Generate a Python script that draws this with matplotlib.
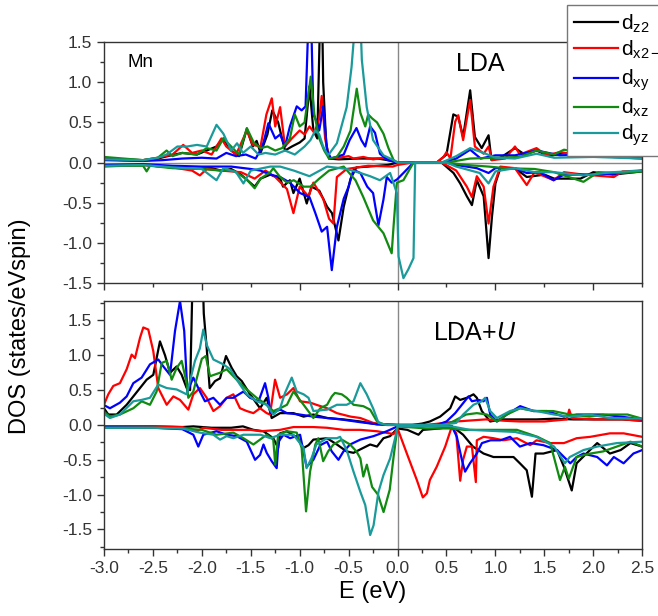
import matplotlib as mpl
mpl.use('Agg')
import matplotlib.pyplot as plt
from matplotlib.ticker import MultipleLocator

plt.rcParams['font.family'] = ['Liberation Sans', 'DejaVu Sans']
plt.rcParams['mathtext.fontset'] = 'custom'
plt.rcParams['mathtext.rm'] = 'Liberation Sans'
plt.rcParams['mathtext.it'] = 'Liberation Sans:italic'

# orbital labels / colours (legend order)
orbitals = ['z2', 'x2-y2', 'xy', 'xz', 'yz']
colors = ['black', '#ff0000', '#0000ff', '#108a10', '#1a9a9a']

# ---------------- LDA, spin up ----------------
lda_up_z2_e = [-3.0, -2.8, -2.6, -2.45, -2.35, -2.2, -2.05, -1.95, -1.85, -1.78, -1.7, -1.62, -1.54, -1.48, -1.44,
               -1.4, -1.33, -1.28, -1.22, -1.15, -1.08, -1.0, -0.95, -0.9, -0.86, -0.82, -0.79, -0.775, -0.76,
               -0.73, -0.7, -0.6, -0.4, -0.2, -0.05, 0.0, 0.4, 0.5, 0.57, 0.62, 0.67, 0.742, 0.79, 0.86, 0.93,
               0.96, 1.05, 1.2, 1.3, 1.42, 1.55, 1.7, 1.9, 2.1, 2.3, 2.5]
lda_up_z2 = [0.05, 0.04, 0.03, 0.05, 0.08, 0.12, 0.1, 0.15, 0.2, 0.3, 0.15, 0.08, 0.42, 0.2, 0.27,
             0.12, 0.35, 0.65, 0.5, 0.15, 0.2, 0.25, 0.3, 0.95, 0.4, 0.3, 1.9, 2.2, 1.0,
             0.25, 0.05, 0.04, 0.05, 0.05, 0.02, 0.0, 0.0, 0.1, 0.6, 0.57, 0.32, 0.9, 0.32, 0.18, 0.34,
             0.03, 0.06, 0.18, 0.1, 0.15, 0.08, 0.12, 0.1, 0.08, 0.08, 0.07]

lda_up_x2y2_e = [-3.0, -2.8, -2.6, -2.45, -2.3, -2.19, -2.1, -2.0, -1.9, -1.8, -1.75, -1.65, -1.54, -1.48, -1.4,
                 -1.34, -1.285, -1.25, -1.2, -1.15, -1.08, -1.0, -0.95, -0.9, -0.85, -0.8, -0.775, -0.74, -0.7,
                 -0.6, -0.5, -0.45, -0.35, -0.25, -0.15, -0.05, 0.0, 0.4, 0.47, 0.5, 0.54, 0.589, 0.62, 0.67,
                 0.742, 0.79, 0.88, 0.93, 0.964, 1.1, 1.2, 1.25, 1.42, 1.52, 1.66, 1.8, 2.0, 2.2, 2.5]
lda_up_x2y2 = [0.04, 0.03, 0.03, 0.06, 0.1, 0.22, 0.12, 0.15, 0.1, 0.3, 0.2, 0.1, 0.4, 0.22, 0.2,
               0.6, 0.8, 0.45, 0.69, 0.2, 0.3, 0.4, 0.35, 0.45, 0.37, 0.55, 0.83, 0.3, 0.05,
               0.06, 0.08, 0.05, 0.07, 0.04, 0.06, 0.02, 0.0, 0.0, 0.07, 0.13, 0.05, 0.51, 0.59, 0.28,
               0.78, 0.2, 0.11, 0.2, 0.03, 0.05, 0.2, 0.1, 0.18, 0.09, 0.13, 0.1, 0.1, 0.08, 0.06]

lda_up_xy_e = [-3.0, -2.6, -2.4, -2.2, -2.0, -1.85, -1.75, -1.65, -1.55, -1.45, -1.38, -1.32, -1.25, -1.2,
               -1.15, -1.1, -1.03, -0.98, -0.94, -0.91, -0.885, -0.86, -0.83, -0.8, -0.76, -0.72, -0.68,
               -0.55, -0.49, -0.42, -0.37, -0.33, -0.28, -0.23, -0.18, -0.1, 0.0, 0.45, 0.6, 0.742, 0.85,
               1.0, 1.2, 1.42, 1.66, 1.9, 2.2, 2.5]
lda_up_xy = [0.03, 0.02, 0.03, 0.05, 0.06, 0.05, 0.12, 0.08, 0.1, 0.05, 0.2, 0.49, 0.3, 0.35,
             0.2, 0.45, 0.7, 0.65, 0.7, 1.8, 1.9, 0.6, 0.52, 0.4, 0.7, 0.15, 0.05,
             0.1, 0.28, 0.43, 0.28, 0.2, 0.45, 0.37, 0.11, 0.03, 0.0, 0.0, 0.05, 0.16, 0.05,
             0.09, 0.09, 0.15, 0.09, 0.1, 0.07, 0.05]

lda_up_xz_e = [-3.0, -2.8, -2.6, -2.45, -2.36, -2.3, -2.2, -2.05, -1.95, -1.85, -1.78, -1.7, -1.62, -1.54,
               -1.47, -1.4, -1.33, -1.25, -1.18, -1.1, -1.05, -1.0, -0.95, -0.887, -0.85, -0.8, -0.75, -0.7,
               -0.62, -0.55, -0.48, -0.417, -0.38, -0.33, -0.3, -0.26, -0.21, -0.144, -0.093, -0.04, 0.0,
               0.5, 0.74, 1.0, 1.25, 1.42, 1.6, 1.7, 1.9, 2.2, 2.5]
lda_up_xz = [0.07, 0.05, 0.03, 0.06, 0.15, 0.08, 0.12, 0.1, 0.18, 0.15, 0.3, 0.2, 0.1, 0.43,
             0.25, 0.18, 0.2, 0.15, 0.18, 0.3, 0.6, 0.45, 0.5, 1.07, 0.6, 0.3, 0.15, 0.05,
             0.07, 0.2, 0.4, 0.92, 0.62, 0.45, 0.6, 0.55, 0.5, 0.36, 0.18, 0.03, 0.0,
             0.0, 0.05, 0.06, 0.07, 0.15, 0.1, 0.16, 0.12, 0.1, 0.08]

lda_up_yz_e = [-3.0, -2.6, -2.45, -2.36, -2.25, -2.15, -2.05, -1.95, -1.85, -1.78, -1.7, -1.64, -1.58, -1.5,
               -1.42, -1.35, -1.25, -1.15, -1.05, -0.95, -0.89, -0.84, -0.8, -0.76, -0.71, -0.62, -0.52,
               -0.47, -0.43, -0.4, -0.38, -0.365, -0.315, -0.25, -0.144, -0.04, 0.0, 0.45, 0.6, 0.742,
               0.9, 1.0, 1.2, 1.42, 1.6, 2.0, 2.5]
lda_up_yz = [0.04, 0.03, 0.06, 0.1, 0.2, 0.2, 0.22, 0.2, 0.47, 0.36, 0.15, 0.24, 0.12, 0.2,
             0.1, 0.12, 0.1, 0.15, 0.1, 0.2, 0.28, 0.4, 0.35, 0.2, 0.09, 0.24, 0.69,
             1.19, 1.8, 1.6, 1.8, 1.28, 0.69, 0.28, 0.09, 0.03, 0.0, 0.0, 0.08, 0.18,
             0.11, 0.06, 0.05, 0.11, 0.06, 0.07, 0.05]

# ---------------- LDA, spin down ----------------
lda_dn_z2_e = [-3.0, -2.6, -2.3, -2.1, -1.9, -1.8, -1.7, -1.6, -1.46, -1.4, -1.3, -1.2, -1.17, -1.1, -1.064,
               -1.0, -0.928, -0.88, -0.8, -0.72, -0.67, -0.604, -0.55, -0.48, -0.42, -0.3, -0.1, 0.0, 0.45,
               0.572, 0.64, 0.708, 0.76, 0.81, 0.88, 0.93, 0.965, 1.0, 1.05, 1.2, 1.32, 1.5, 1.6, 1.87, 2.0,
               2.2, 2.5]
lda_dn_z2 = [-0.04, -0.03, -0.06, -0.08, -0.07, -0.1, -0.08, -0.15, -0.3, -0.2, -0.15, -0.2, -0.3, -0.22, -0.38,
             -0.2, -0.51, -0.3, -0.35, -0.55, -0.63, -0.97, -0.55, -0.2, -0.06, -0.05, -0.03, 0.0, 0.0,
             -0.13, -0.26, -0.42, -0.53, -0.22, -0.42, -1.19, -0.67, -0.26, -0.07, -0.07, -0.18, -0.15, -0.2,
             -0.2, -0.12, -0.15, -0.11]

lda_dn_x2y2_e = [-3.0, -2.6, -2.3, -2.1, -2.02, -1.95, -1.8, -1.6, -1.46, -1.35, -1.25, -1.13, -1.064, -1.0,
                 -0.91, -0.86, -0.76, -0.7, -0.655, -0.62, -0.52, -0.3, -0.05, 0.0, 0.05, 0.15, 0.45, 0.6,
                 0.708, 0.76, 0.81, 0.88, 0.93, 0.98, 1.05, 1.2, 1.32, 1.4, 1.595, 1.7, 1.9, 2.21, 2.3, 2.5]
lda_dn_x2y2 = [-0.04, -0.03, -0.06, -0.1, -0.16, -0.08, -0.1, -0.12, -0.2, -0.1, -0.18, -0.33, -0.63, -0.3,
               -0.42, -0.25, -0.45, -0.7, -0.76, -0.18, -0.08, -0.04, -0.05, -0.03, -0.02, 0.0, 0.0, -0.1,
               -0.3, -0.43, -0.17, -0.3, -0.76, -0.3, -0.05, -0.07, -0.28, -0.12, -0.22, -0.12, -0.15, -0.18,
               -0.11, -0.1]

lda_dn_xy_e = [-3.0, -2.6, -2.3, -2.0, -1.7, -1.5, -1.4, -1.3, -1.2, -1.1, -0.996, -0.9, -0.84, -0.775, -0.72,
               -0.672, -0.62, -0.55, -0.5, -0.45, -0.38, -0.31, -0.25, -0.195, -0.144, -0.11, -0.06, -0.005,
               0.06, 0.163, 0.5, 0.6, 0.81, 0.93, 1.0, 1.2, 1.32, 1.45, 1.595, 1.7, 1.9, 2.2, 2.5]
lda_dn_xy = [-0.03, -0.02, -0.04, -0.05, -0.05, -0.08, -0.1, -0.15, -0.18, -0.25, -0.38, -0.43, -0.63, -0.86, -0.8,
             -1.34, -0.8, -0.45, -0.3, -0.09, -0.13, -0.3, -0.38, -0.78, -0.46, -0.18, -0.25, -0.21,
             -0.13, 0.0, 0.0, -0.03, -0.07, -0.13, -0.07, -0.07, -0.13, -0.12, -0.22, -0.15, -0.15, -0.14, -0.1]

lda_dn_xz_e = [-3.0, -2.8, -2.6, -2.564, -2.53, -2.3, -2.0, -1.8, -1.68, -1.55, -1.46, -1.4, -1.3, -1.27, -1.2,
               -1.13, -1.06, -0.96, -0.89, -0.8, -0.7, -0.55, -0.43, -0.35, -0.25, -0.144, -0.06, -0.04,
               -0.007, 0.06, 0.163, 0.5, 0.7, 0.93, 1.1, 1.4, 1.6, 1.9, 2.05, 2.3, 2.5]
lda_dn_xz = [-0.05, -0.04, -0.04, -0.11, -0.04, -0.07, -0.08, -0.1, -0.1, -0.2, -0.32, -0.2, -0.12, -0.07, -0.18,
             -0.25, -0.22, -0.3, -0.3, -0.2, -0.1, -0.05, -0.22, -0.43, -0.72, -0.88, -1.13, -0.78,
             -0.25, -0.22, 0.0, 0.0, -0.03, -0.05, -0.07, -0.08, -0.12, -0.24, -0.12, -0.13, -0.11]

lda_dn_yz_e = [-3.0, -2.6, -2.3, -2.0, -1.85, -1.78, -1.65, -1.575, -1.5, -1.3, -1.2, -1.06, -0.9, -0.72,
               -0.52, -0.38, -0.28, -0.18, -0.076, -0.007, 0.01, 0.06, 0.11, 0.163, 0.18, 0.5, 0.6, 0.84,
               0.93, 1.0, 1.2, 1.4, 1.6, 1.9, 2.2, 2.5]
lda_dn_yz = [-0.04, -0.03, -0.06, -0.08, -0.22, -0.07, -0.12, -0.26, -0.1, -0.05, -0.05, -0.1, -0.17, -0.05,
             -0.08, -0.13, -0.17, -0.22, -0.13, -0.38, -1.17, -1.44, -1.33, -1.19, 0.0, 0.0, -0.05, -0.13,
             -0.26, -0.11, -0.07, -0.12, -0.12, -0.16, -0.12, -0.1]

# ---------------- LDA+U, spin up ----------------
ldau_up_z2_e = [-3.0, -2.956, -2.87, -2.768, -2.7, -2.615, -2.564, -2.496, -2.428, -2.376, -2.325, -2.257,
                -2.206, -2.155, -2.12, -2.09, -2.05, -2.0, -1.98, -1.95, -1.92, -1.865, -1.814, -1.753, -1.695,
                -1.644, -1.592, -1.507, -1.405, -1.337, -1.286, -1.2, -1.064, -0.96, -0.86, -0.72, -0.553,
                -0.38, -0.21, 0.0, 0.15, 0.25, 0.33, 0.435, 0.538, 0.589, 0.64, 0.708, 0.776, 0.81, 0.861,
                0.947, 1.05, 1.25, 1.42, 1.6, 1.8, 2.0, 2.3, 2.5]
ldau_up_z2 = [0.24, 0.15, 0.15, 0.29, 0.41, 0.56, 0.65, 0.72, 1.2, 1.0, 0.75, 0.84,
              0.72, 0.53, 0.5, 2.4, 2.0, 2.6, 1.6, 1.1, 0.53, 0.63, 0.67, 0.99, 0.82,
              0.7, 0.63, 0.44, 0.24, 0.39, 0.1, 0.17, 0.17, 0.12, 0.15, 0.1, 0.08,
              0.05, 0.01, 0.0, 0.0, 0.02, 0.05, 0.12, 0.24, 0.41, 0.36, 0.39, 0.44, 0.39, 0.2,
              0.05, 0.08, 0.08, 0.08, 0.09, 0.08, 0.08, 0.08, 0.06]

ldau_up_x2y2_e = [-3.0, -2.956, -2.905, -2.837, -2.768, -2.717, -2.683, -2.632, -2.598, -2.547, -2.496, -2.445,
                  -2.359, -2.291, -2.223, -2.138, -2.087, -2.019, -1.95, -1.882, -1.814, -1.746, -1.678, -1.61,
                  -1.541, -1.473, -1.405, -1.337, -1.303, -1.252, -1.2, -1.13, -1.064, -0.996, -0.89, -0.83,
                  -0.72, -0.62, -0.48, -0.38, -0.25, -0.11, 0.0, 0.3, 0.6, 0.9, 1.1, 1.25, 1.5, 1.73, 1.754,
                  1.78, 2.0, 2.3, 2.5]
ldau_up_x2y2 = [0.29, 0.44, 0.56, 0.6, 0.8, 1.01, 0.96, 1.25, 1.4, 1.37, 1.06, 0.53,
                0.29, 0.41, 0.36, 0.22, 0.44, 0.53, 0.39, 0.2, 0.27, 0.39, 0.44, 0.24,
                0.2, 0.17, 0.24, 0.17, 0.15, 0.65, 0.39, 0.44, 0.53, 0.34, 0.32, 0.29,
                0.24, 0.17, 0.12, 0.1, 0.03, 0.0, 0.0, 0.0, 0.05, 0.08, 0.06, 0.05, 0.05, 0.08, 0.22,
                0.1, 0.08, 0.08, 0.06]

ldau_up_xy_e = [-3.007, -2.939, -2.837, -2.768, -2.7, -2.615, -2.53, -2.445, -2.393, -2.325, -2.274, -2.223,
                -2.18, -2.148, -2.087, -2.019, -1.968, -1.882, -1.814, -1.746, -1.678, -1.575, -1.507, -1.42,
                -1.354, -1.32, -1.3, -1.2, -1.13, -1.0, -0.86, -0.72, -0.58, -0.38, -0.21, 0.0, 0.4, 0.5,
                0.589, 0.657, 0.725, 0.76, 0.827, 0.878, 0.913, 0.947, 1.015, 1.117, 1.253, 1.39, 1.526,
                1.7, 1.83, 2.1, 2.28, 2.5]
ldau_up_xy = [0.29, 0.24, 0.32, 0.41, 0.6, 0.68, 0.87, 0.94, 0.84, 0.72, 1.35, 1.78,
              1.35, 0.48, 0.68, 0.48, 0.34, 0.39, 0.29, 0.39, 0.39, 0.48, 0.39, 0.34,
              0.6, 0.39, 0.17, 0.22, 0.17, 0.15, 0.12, 0.1, 0.08, 0.04, 0.01, 0.0, 0.0, 0.05,
              0.17, 0.29, 0.41, 0.34, 0.36, 0.34, 0.39, 0.15, 0.05, 0.15, 0.27, 0.2, 0.2,
              0.12, 0.15, 0.15, 0.12, 0.08]

ldau_up_xz_e = [-3.007, -2.939, -2.837, -2.7, -2.615, -2.53, -2.462, -2.41, -2.359, -2.308, -2.257, -2.206,
                -2.155, -2.138, -2.087, -2.0, -1.96, -1.916, -1.814, -1.746, -1.678, -1.61, -1.541, -1.44,
                -1.337, -1.27, -1.2, -1.13, -1.064, -0.96, -0.86, -0.79, -0.72, -0.672, -0.64, -0.57, -0.52,
                -0.45, -0.35, -0.28, -0.21, -0.144, 0.0, 0.5, 0.7, 0.81, 0.913, 1.015, 1.117, 1.253, 1.39,
                1.59, 1.76, 1.96, 2.14, 2.35, 2.5]
ldau_up_xz = [0.2, 0.12, 0.15, 0.24, 0.34, 0.29, 0.48, 0.89, 0.92, 0.65, 0.82, 0.92,
              0.6, 0.39, 0.48, 0.95, 0.99, 0.7, 0.75, 0.8, 0.7, 0.6, 0.51, 0.39,
              0.29, 0.2, 0.24, 0.29, 0.48, 0.29, 0.1, 0.24, 0.29, 0.41, 0.46, 0.44, 0.39,
              0.29, 0.27, 0.22, 0.05, 0.01, 0.0, 0.0, 0.15, 0.17, 0.15, 0.05, 0.15, 0.24, 0.2,
              0.2, 0.15, 0.12, 0.15, 0.15, 0.09]

ldau_up_yz_e = [-3.007, -2.939, -2.837, -2.7, -2.615, -2.53, -2.445, -2.359, -2.257, -2.155, -2.07, -2.02,
                -1.985, -1.95, -1.882, -1.78, -1.71, -1.61, -1.541, -1.44, -1.337, -1.27, -1.2, -1.15,
                -1.081, -1.03, -0.96, -0.91, -0.86, -0.72, -0.62, -0.52, -0.45, -0.38, -0.315, -0.25,
                -0.195, -0.11, 0.0, 0.45, 0.6, 0.67, 0.776, 0.86, 0.895, 0.947, 1.015, 1.15, 1.253, 1.42,
                1.6, 1.76, 1.96, 2.17, 2.5]
ldau_up_yz = [0.17, 0.1, 0.15, 0.34, 0.36, 0.39, 0.58, 0.53, 0.51, 0.44, 0.92, 1.1,
              1.37, 1.15, 0.94, 0.87, 0.8, 0.58, 0.44, 0.34, 0.29, 0.15, 0.24, 0.46,
              0.68, 0.48, 0.44, 0.39, 0.2, 0.22, 0.29, 0.29, 0.34, 0.6, 0.44, 0.24,
              0.03, 0.0, 0.0, 0.0, 0.03, 0.15, 0.29, 0.34, 0.39, 0.2, 0.1, 0.2, 0.24, 0.2,
              0.15, 0.12, 0.15, 0.1, 0.09]

# ---------------- LDA+U, spin down ----------------
ldau_dn_z2_e = [-3.0, -2.5, -2.2, -2.087, -1.9, -1.7, -1.58, -1.473, -1.37, -1.27, -1.22, -1.2, -1.13, -1.03,
                -0.96, -0.91, -0.86, -0.72, -0.62, -0.52, -0.45, -0.38, -0.28, -0.21, -0.144, -0.076, 0.0,
                0.1, 0.214, 0.26, 0.43, 0.555, 0.606, 0.67, 0.77, 0.879, 0.98, 1.08, 1.185, 1.25, 1.32,
                1.373, 1.41, 1.49, 1.63, 1.7, 1.78, 1.83, 1.93, 2.04, 2.17, 2.28, 2.38, 2.5]
ldau_dn_z2 = [-0.02, -0.02, -0.03, -0.02, -0.04, -0.04, -0.02, -0.07, -0.09, -0.19, -0.33, -0.12, -0.09, -0.18,
              -0.33, -0.29, -0.21, -0.19, -0.28, -0.38, -0.4, -0.35, -0.28, -0.31, -0.19, -0.16, -0.05,
              -0.07, -0.14, -0.07, -0.05, -0.02, -0.07, -0.14, -0.31, -0.41, -0.46, -0.46, -0.46, -0.55, -0.65,
              -1.03, -0.41, -0.41, -0.36, -0.6, -0.94, -0.55, -0.41, -0.26, -0.41, -0.36, -0.26, -0.31]

ldau_dn_x2y2_e = [-3.0, -2.5, -2.2, -2.053, -1.985, -1.8, -1.5, -1.4, -1.2, -1.064, -0.86, -0.72, -0.55, -0.38,
                  -0.21, -0.04, 0.0, 0.095, 0.197, 0.258, 0.3, 0.33, 0.4, 0.487, 0.555, 0.6, 0.64, 0.67, 0.708,
                  0.76, 0.8, 0.81, 0.879, 0.98, 1.08, 1.22, 1.355, 1.42, 1.56, 1.7, 1.83, 1.97, 2.17, 2.31, 2.5]
ldau_dn_x2y2 = [-0.02, -0.02, -0.03, -0.09, -0.04, -0.07, -0.07, -0.09, -0.07, -0.03, -0.03, -0.04, -0.07, -0.07,
                -0.09, -0.13, -0.05, -0.41, -0.79, -1.04, -0.98, -0.79, -0.6, -0.31, -0.02, -0.12, -0.8, -0.5,
                -0.31, -0.31, -0.82, -0.22, -0.17, -0.19, -0.22, -0.19, -0.29, -0.22, -0.26, -0.26, -0.19, -0.17,
                -0.12, -0.12, -0.17]

ldau_dn_xy_e = [-3.0, -2.5, -2.2, -2.087, -2.036, -1.985, -1.85, -1.746, -1.644, -1.541, -1.456, -1.405, -1.37,
                -1.337, -1.286, -1.235, -1.217, -1.166, -1.098, -0.996, -0.93, -0.86, -0.79, -0.72, -0.672,
                -0.604, -0.553, -0.485, -0.38, -0.245, -0.11, 0.0, 0.15, 0.43, 0.555, 0.606, 0.657, 0.69,
                0.74, 0.81, 0.862, 0.95, 1.05, 1.15, 1.25, 1.355, 1.49, 1.63, 1.765, 1.83, 1.9, 2.04, 2.14,
                2.21, 2.31, 2.41, 2.5]
ldau_dn_xy = [-0.03, -0.04, -0.06, -0.14, -0.31, -0.14, -0.09, -0.14, -0.16, -0.24, -0.5, -0.43, -0.28,
              -0.4, -0.52, -0.62, -0.24, -0.14, -0.19, -0.14, -0.6, -0.5, -0.29, -0.24, -0.38,
              -0.5, -0.38, -0.28, -0.21, -0.16, -0.09, -0.02, -0.01, -0.02, -0.02, -0.17, -0.5, -0.67,
              -0.55, -0.41, -0.26, -0.22, -0.22, -0.17, -0.31, -0.26, -0.29, -0.36, -0.55, -0.46, -0.41, -0.46, -0.58,
              -0.46, -0.55, -0.41, -0.36]

ldau_dn_xz_e = [-3.0, -2.5, -2.2, -2.0, -1.85, -1.678, -1.575, -1.473, -1.405, -1.337, -1.27, -1.25, -1.22,
                -1.13, -1.03, -0.98, -0.935, -0.894, -0.84, -0.81, -0.76, -0.71, -0.655, -0.57, -0.485, -0.42,
                -0.38, -0.35, -0.314, -0.26, -0.2, -0.143, -0.08, -0.04, 0.0, 0.3, 0.54, 0.68, 1.02, 1.22,
                1.43, 1.56, 1.66, 1.71, 1.75, 1.83, 1.97, 2.1, 2.24, 2.38, 2.5]
ldau_dn_xz = [-0.04, -0.04, -0.05, -0.07, -0.14, -0.11, -0.19, -0.28, -0.21, -0.14, -0.21, -0.57, -0.14,
              -0.09, -0.11, -0.33, -1.24, -0.67, -0.28, -0.19, -0.52, -0.38, -0.28, -0.21, -0.28, -0.38,
              -0.48, -0.74, -0.57, -0.89, -1.0, -1.25, -0.93, -0.45, -0.02, -0.05, -0.05, -0.07, -0.07, -0.07,
              -0.17, -0.26, -0.79, -0.6, -0.77, -0.46, -0.41, -0.38, -0.31, -0.24, -0.31]

ldau_dn_yz_e = [-3.0, -2.5, -2.2, -2.02, -1.882, -1.814, -1.746, -1.678, -1.575, -1.4, -1.3, -1.2, -1.064,
                -0.96, -0.93, -0.88, -0.83, -0.72, -0.62, -0.587, -0.52, -0.45, -0.38, -0.33, -0.28, -0.245,
                -0.195, -0.144, -0.076, -0.025, 0.0, 0.55, 0.74, 1.2, 1.42, 1.6, 1.71, 1.76, 1.9, 2.04, 2.24,
                2.5]
ldau_dn_yz = [-0.04, -0.04, -0.05, -0.11, -0.14, -0.21, -0.16, -0.19, -0.14, -0.14, -0.19, -0.14, -0.14,
              -0.33, -0.62, -0.48, -0.28, -0.19, -0.19, -0.17, -0.36, -0.67, -0.96, -1.15, -1.58, -1.44,
              -0.96, -0.72, -0.48, -0.19, -0.02, -0.02, -0.07, -0.1, -0.17, -0.31, -0.55, -0.46, -0.36, -0.31, -0.26,
              -0.24]

lda_curves = [(lda_up_z2_e, lda_up_z2), (lda_up_x2y2_e, lda_up_x2y2), (lda_up_xy_e, lda_up_xy),
              (lda_up_xz_e, lda_up_xz), (lda_up_yz_e, lda_up_yz)]
lda_curves_dn = [(lda_dn_z2_e, lda_dn_z2), (lda_dn_x2y2_e, lda_dn_x2y2), (lda_dn_xy_e, lda_dn_xy),
                 (lda_dn_xz_e, lda_dn_xz), (lda_dn_yz_e, lda_dn_yz)]
ldau_curves = [(ldau_up_z2_e, ldau_up_z2), (ldau_up_x2y2_e, ldau_up_x2y2), (ldau_up_xy_e, ldau_up_xy),
               (ldau_up_xz_e, ldau_up_xz), (ldau_up_yz_e, ldau_up_yz)]
ldau_curves_dn = [(ldau_dn_z2_e, ldau_dn_z2), (ldau_dn_x2y2_e, ldau_dn_x2y2), (ldau_dn_xy_e, ldau_dn_xy),
                  (ldau_dn_xz_e, ldau_dn_xz), (ldau_dn_yz_e, ldau_dn_yz)]


def style_axes(ax, ylim):
    ax.set_xlim(-3.0, 2.5)
    ax.set_ylim(*ylim)
    ax.set_yticks([-1.5, -1.0, -0.5, 0.0, 0.5, 1.0, 1.5])
    ax.yaxis.set_minor_locator(MultipleLocator(0.25))
    ax.yaxis.set_major_formatter(mpl.ticker.FormatStrFormatter('%.1f'))
    ax.tick_params(which='both', direction='out', colors='#333333', labelsize=12.5)
    ax.tick_params(which='major', length=5, width=1)
    ax.tick_params(which='minor', length=3, width=1)
    for s in ax.spines.values():
        s.set_color('#333333')
        s.set_linewidth(1.0)
    ax.axvline(0, color='#888888', lw=1.0, zorder=0)


def draw(ax, up, dn):
    lines = []
    for (e, v), (e2, v2), c, o in zip(up, dn, colors, orbitals):
        l, = ax.plot(e, v, color=c, lw=1.6, label=r'd$_{\mathrm{%s}}$' % o)
        ax.plot(e2, v2, color=c, lw=1.6)
        lines.append(l)
    return lines


fig = plt.figure(figsize=(6.58, 6.16), dpi=100)
ax1 = fig.add_axes([0.158, 0.5406, 0.818, 0.391])
ax2 = fig.add_axes([0.158, 0.1088, 0.818, 0.4026])

# LDA panel
style_axes(ax1, (-1.5, 1.5))
ax1.axhline(0, color='#888888', lw=1.0, zorder=0)
ax1.xaxis.set_major_locator(MultipleLocator(1.0))
ax1.xaxis.set_minor_locator(MultipleLocator(0.5))
ax1.tick_params(axis='x', labelbottom=False)
handles = draw(ax1, lda_curves, lda_curves_dn)
ax1.text(-2.755, 1.25, 'Mn', fontsize=13.5, ha='left', va='center')
ax1.text(0.845, 1.23, 'LDA', fontsize=18, ha='center', va='center')

# LDA+U panel
style_axes(ax2, (-1.78, 1.78))
ax2.xaxis.set_major_locator(MultipleLocator(0.5))
ax2.xaxis.set_minor_locator(MultipleLocator(0.25))
ax2.xaxis.set_major_formatter(mpl.ticker.FormatStrFormatter('%.1f'))
draw(ax2, ldau_curves, ldau_curves_dn)
ax2.text(0.364, 1.32, r'LDA+$\mathit{U}$', fontsize=18, ha='left', va='center')
ax2.set_xlabel('E (eV)', fontsize=17, labelpad=4)

fig.text(0.03, 0.47, 'DOS (states/eVspin)', rotation=90, fontsize=17, ha='center', va='center')

# legend runs off the right edge, as in the original figure
leg = fig.legend(handles=handles, loc='upper left', bbox_to_anchor=(567 / 658, 1 - 5 / 616),
                 fontsize=15, frameon=True, fancybox=False, framealpha=1, edgecolor='#777777',
                 handlelength=2.1, handletextpad=0.15, labelspacing=0.18, borderpad=0.35,
                 borderaxespad=0)
leg.get_frame().set_linewidth(1.0)

fig.savefig('out.png', dpi=100)
